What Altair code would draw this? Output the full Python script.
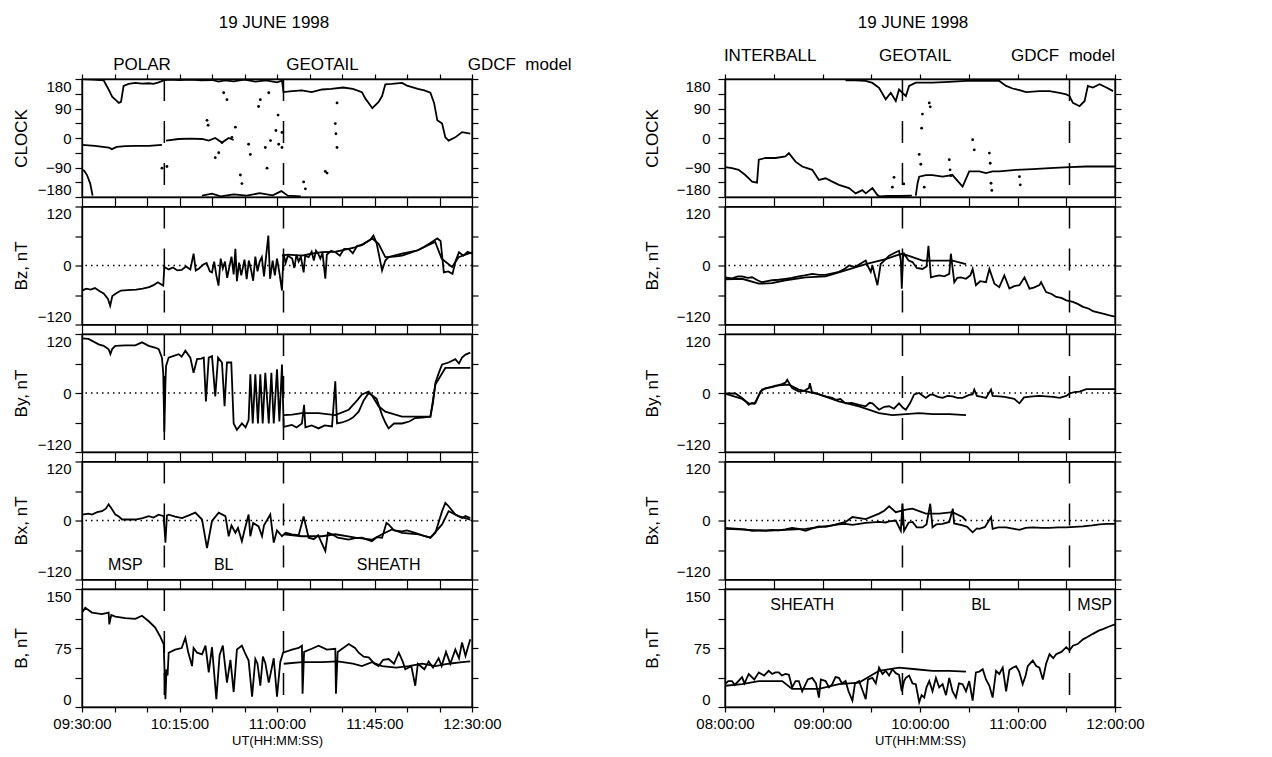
import altair as alt
import pandas as pd

# ---------------- DATA (minutes after panel start, field values) ----------------
# Left figure: 09:30 .. 12:30 UT
L_XTICKS = [0, 15, 30, 45, 60, 75, 90, 105, 120, 135, 150, 165, 180]
L_XLAB_VALS = [0, 45, 90, 135, 180]
L_XLABS = ["09:30:00", "10:15:00", "11:00:00", "11:45:00", "12:30:00"]
# Right figure: 08:00 .. 12:00 UT
R_XTICKS = [0, 30, 60, 90, 120, 150, 180, 210, 240]
R_XLAB_VALS = [0, 60, 120, 180, 240]
R_XLABS = ["08:00:00", "09:00:00", "10:00:00", "11:00:00", "12:00:00"]

CLK_TICKS = [-180, -135, -90, -45, 0, 45, 90, 135, 180]
CLK_LAB_VALS = [-180, -90, 0, 90, 180]
CLK_LABS = ["\u2212180", "\u221290", "0", "90", "180"]
BC_TICKS = [-120, -60, 0, 60, 120]
BC_LAB_VALS = [-120, 0, 120]
BC_LABS = ["\u2212120", "0", "120"]
B_TICKS = [0, 37.5, 75, 112.5, 150]
B_LAB_VALS = [0, 75, 150]
B_LABS = ["0", "75", "150"]

PANEL_TITLES = ["CLOCK", "Bz, nT", "By, nT", "Bx, nT", "B, nT"]

L_BOUNDS = [38, 93]
R_BOUNDS = [109.2, 212]

L_HEAD = ["19 JUNE 1998", "POLAR", "GEOTAIL", "GDCF\u00a0\u00a0model"]
L_HEAD_T = [88.6, 27.7, 111, 202]
L_HEAD_V = [351, 223, 223, 223]
R_HEAD = ["19 JUNE 1998", "INTERBALL", "GEOTAIL", "GDCF\u00a0\u00a0model"]
R_HEAD_T = [115.7, 27.8, 117, 208]
R_HEAD_V = [351, 250, 250, 250]

L_REGIONS = ["MSP", "BL", "SHEATH"]
L_REGIONS_T = [20, 65.4, 141.5]
L_REGIONS_V = [-90, -90, -90]
R_REGIONS = ["SHEATH", "BL", "MSP"]
R_REGIONS_T = [47.5, 157.5, 227.5]
R_REGIONS_V = [130, 130, 130]

# ---- left CLOCK ----
L_CLK_A1 = [(0, -97), (1, -100), (2.3, -113), (3.8, -139), (4.9, -176)]
L_CLK_A2 = [(0, 180), (5, 178), (10, 176), (12.3, 148), (14, 125), (15.4, 117), (17, 107), (18, 110),
            (19.2, 159), (21.5, 165), (24.6, 168), (27.7, 166), (30.8, 167), (33, 165), (35.4, 170),
            (37.7, 176), (40, 178), (45, 177), (50, 178), (55, 176), (60, 177), (63, 172), (66, 176),
            (70, 173), (75, 178), (80, 172), (85, 176), (90, 170), (92.3, 175), (93, 140), (97, 143),
            (101.5, 145), (106, 140), (110.8, 148), (115, 150), (120.5, 154), (125, 150), (129.2, 140),
            (130.8, 120), (132.3, 107), (134, 91), (135.4, 100), (136.9, 110), (138.5, 128), (140, 164),
            (143, 165), (147.7, 168), (150, 160), (155, 150), (158, 145), (160.8, 138), (162.5, 107),
            (164, 54), (166.2, 44), (167.7, 2), (169.2, -8), (172.3, 2), (175.4, 18), (179.2, 13)]
L_CLK_B1 = [(0, -21), (6, -24), (12.3, -29), (13.8, -34), (16, -27), (20, -25), (24.6, -24),
            (30.8, -24), (36.9, -21)]
L_CLK_B2 = [(38.8, -8), (44.6, -3), (50, -2), (55.4, -3), (58.5, -8), (61.5, 0), (64.6, -14),
            (67.7, 0), (70, -6)]
L_CLK_C = [(55.4, -176), (60, -170), (64, -178), (70, -172), (76, -176), (82, -168), (88, -175),
           (92, -162), (95, -176), (101, -178)]
L_CLK_DOTS = [(36.9, -92), (39.2, -87), (57.7, 54), (58.2, 39), (61.5, -60), (63.1, -45), (64.6, -14),
              (65.4, 138), (66.9, 117), (69.2, 2), (70.8, 33), (73.1, -113), (73.8, -139), (76.9, -19),
              (77.7, -50), (81.5, 96), (82.3, 117), (84.6, -29), (85.4, -92), (86.2, 138), (87, -8),
              (89.5, 23), (90.5, 70), (90.8, -19), (92.3, 17), (92.3, -29), (102.3, -134), (103.1, -155),
              (112.3, -102), (113.1, -107), (116.9, 44), (117.2, 13), (117.7, -29), (117.7, 107)]

# ---- left Bz ----
L_BZ_OBS = [(0, -51), (2, -47), (4, -49), (6, -46), (8, -52), (10, -57), (12, -68), (13, -82), (14, -62),
            (16, -56), (18, -51), (21, -50), (25, -49), (28, -47), (31, -44), (33, -40), (35, -34),
            (37.5, -41), (38, -3), (40, -8), (42, -4), (44, -10), (46, -9), (48, -2), (50, -8), (51.5, 24),
            (52.5, -10), (54, -6), (56, 2), (57.5, 5), (59, -12), (60, -14), (61, 8), (62, -20), (63, -41),
            (64, 14), (65, -6), (66, 8), (67, -25), (68, -3), (69, 18), (70, -18), (70.8, 34), (71.5, -32),
            (72.5, 6), (73.5, -20), (75, 12), (76, -28), (77, 10), (78, -8), (79, -31), (80, 18), (81, -12),
            (82, 8), (83, 17), (84, -22), (85, 20), (86, 61), (86.8, -27), (88, 10), (89, -20), (90, 14),
            (91, -12), (92.3, -51), (93, 24), (94, 5), (95, 20), (97, 14), (98, -5), (99, 22), (100, 8),
            (101, 18), (102.3, -14), (103, 20), (104.6, 17), (106, 28), (107, 10), (108, 30), (109, 24),
            (110, 14), (111, 26), (112.3, -27), (113, 22), (115, 30), (117, 27), (119, 20), (121, 34),
            (123, 34), (125, 25), (127, 40), (129, 41), (131, 47), (133, 52), (134.5, 61), (136, 45),
            (137.5, 12), (138.5, -10), (140, 10), (141.5, 17), (144, 20), (147.7, 24), (151, 27), (155, 31),
            (158, 38), (161.5, 48), (164, 55), (165.5, 50), (167, -14), (169, -12), (171, -17), (172.5, 10),
            (174, 27), (176, 20), (178, 28), (180, 24)]
L_BZ_MOD = [(92.3, 20), (95, 22), (101.5, 20), (106, 24), (110.8, 27), (117, 28), (121, 32), (126, 37),
            (130, 44), (134, 55), (136.9, 44), (140, 17), (144, 18), (147.7, 20), (155, 31), (160, 42),
            (163, 48), (166, 14), (170.8, -3), (173.8, 17), (177, 22), (180, 27)]

# ---- left By ----
L_BY_OBS = [(0, 111), (3, 110), (7.7, 99), (10, 96), (12.3, 89), (13.1, 79), (14, 90), (15.4, 96), (20, 97),
            (24.6, 97), (27.7, 103), (30.8, 96), (34, 92), (35.4, 89), (36.9, 72), (37.5, 40), (38, -79),
            (38.5, 20), (38.8, 55), (40, 72), (42, 75), (44.6, 79), (46, 74), (47.7, 86), (50, 72), (51.5, 41),
            (53.1, 69), (55, 70), (56.2, 72), (57.2, -17), (58.5, 72), (60, 75), (61.5, -7), (62.8, 72),
            (64.6, 62), (65.8, -27), (66.9, 62), (68.9, 62), (70, -62), (71.5, -75), (73.8, -62), (75.5, -70),
            (76.9, -55), (77.7, 38), (78.8, -62), (80, 38), (81.2, -62), (82.3, 38), (83.4, -62), (84.6, 41),
            (86.2, -62), (87.4, 41), (88.5, -62), (90, 48), (91.1, -58), (92.3, 58), (93.1, -69), (96.9, -65),
            (99, -70), (101.5, -62), (102.5, -24), (103.1, -70), (106, -66), (109.2, -72), (112, -66),
            (115.4, -68), (116.9, 24), (117.7, -62), (120, -60), (123.1, -55), (125, -50), (127.7, -38),
            (130, -15), (132.3, 0), (134, -5), (136, -12), (138.5, -45), (140, -60), (141.5, -72), (144, -62),
            (147.7, -62), (151, -58), (153.8, -51), (157, -50), (160.8, -48), (162, -20), (163.1, 21),
            (164.6, 40), (166.2, 58), (169.2, 62), (172.3, 69), (174, 60), (175.4, 72), (177, 78), (179.2, 82)]
L_BY_MOD = [(93.1, -45), (97, -44), (101.5, -41), (109.2, -41), (116.9, -45), (123.1, -34), (127, -15),
            (129.2, -3), (132.3, 3), (134, -6), (136.9, -27), (140, -38), (147.7, -48), (153.8, -48),
            (160.8, -48), (163.1, 17), (167.7, 51), (172.3, 51), (179.2, 51)]

# ---- left Bx ----
L_BX_OBS = [(0, 12), (3, 14), (4.6, 12), (7, 17), (9.2, 19), (11, 24), (12.3, 33), (14, 22), (15.4, 12),
            (17, 8), (18.5, 2), (22, 2), (24.6, 2), (28, 5), (30.8, 9), (33, 6), (35.4, 12), (37.7, 9),
            (38.5, -45), (39.2, 10), (40, 12), (43, 8), (46.2, 5), (49, 10), (52.3, 16), (55.4, 2),
            (57.7, -56), (60, -1), (63.1, 16), (66.2, 9), (67.7, -32), (69, -10), (70.8, -25), (72, -15),
            (73.8, -42), (75, -20), (76.9, 12), (77.7, -32), (79, -5), (81.5, -12), (83.1, -32), (84, -10),
            (86.9, 12), (88.5, -45), (90, -20), (92.3, -32), (94, -25), (96.9, -28), (100, -30), (102.3, 8),
            (104.6, -35), (107, -38), (109, -30), (112.3, -62), (113.5, -25), (115.4, -28), (118, -35),
            (123.1, -39), (126, -36), (129.2, -35), (131, -38), (133.8, -42), (136, -34), (138.5, -35),
            (140.5, -5), (141.5, -8), (144, -20), (147.7, -22), (150, -20), (153.8, -25), (157, -30),
            (160.8, -35), (163.1, -25), (166.2, 19), (167.7, 36), (169.2, 29), (172.3, 12), (175.4, 5),
            (177, 9), (179.2, 5)]
L_BX_MOD = [(93.1, -28), (101.5, -32), (110.8, -32), (116.9, -28), (126.2, -35), (133.8, -39), (138.5, -28),
            (143.1, -18), (147.7, -25), (155.4, -28), (160.8, -35), (166.2, -8), (169.2, 19), (173.8, 9),
            (179.2, 2)]

# ---- left B ----
L_B_OBS = [(0, 120), (1.5, 126), (4.6, 120), (9.2, 118), (12.3, 120), (12.6, 105), (13.5, 117), (15.4, 115),
           (20, 113), (24.6, 112), (27.7, 116), (30.8, 109), (33.8, 101), (36, 90), (37.7, 80), (38.5, 10),
           (39, 48), (39.5, 40), (40, 69), (43, 73), (46, 75), (47.7, 88), (49, 70), (50.8, 52), (51.5, 75),
           (53.1, 69), (55.4, 67), (57, 78), (58.5, 44), (60, 76), (62, 10), (63.5, 66), (65, 78), (66.9, 31),
           (68.5, 60), (70, 19), (71.5, 73), (73.8, 78), (75, 70), (76.9, 59), (78.5, 13), (80, 61), (81, 55),
           (82.3, 27), (83.5, 64), (84.6, 56), (86.2, 31), (88.5, 62), (90, 13), (91.5, 57), (92.8, 69),
           (96.9, 73), (100, 75), (101.5, 78), (101.8, 17), (102.5, 70), (106, 74), (109.2, 78), (113, 73),
           (116.9, 74), (117.2, 17), (118, 70), (123.1, 80), (126, 75), (127.7, 69), (130, 64), (132.3, 63),
           (135, 55), (136.9, 52), (139, 60), (141.5, 61), (144, 55), (146.2, 69), (148, 58), (149.2, 48),
           (152, 52), (153.8, 27), (155, 55), (158, 48), (160, 58), (162, 50), (164.6, 62), (166, 52),
           (168, 70), (170, 55), (172.3, 73), (174, 62), (175.4, 82), (177, 65), (179.2, 86)]
L_B_MOD = [(93.1, 55), (101.5, 57), (110.8, 57), (118, 58), (125, 55), (129.2, 52), (133.8, 57), (138.5, 52),
           (145, 50), (150.8, 52), (157, 55), (163.1, 52), (169.2, 55), (175.4, 57), (179.2, 58)]

# ---- right CLOCK ----
R_CLK_1 = [(0, -89), (4.3, -92), (8.4, -97), (12.5, -113), (16.7, -133), (19.7, -136), (20.8, -66),
           (24.9, -61), (31.1, -61), (37.2, -56), (39.3, -46), (43.4, -72), (47.5, -87), (53.7, -97),
           (57.8, -128), (61.9, -123), (66, -133), (70.1, -143), (76.3, -153), (80.4, -169), (84.5, -159),
           (86.6, -169), (90.7, -153), (93.8, -174), (95, -178), (100, -177), (107.1, -177), (115, -176)]
R_CLK_2 = [(117.4, -176), (118.5, -138), (119.5, -118), (123.6, -113), (127.7, -113), (133.9, -118),
           (140, -113), (146.2, -148), (150.3, -102), (156.5, -102), (160.6, -107), (164.7, -102),
           (168.8, -102), (179.1, -97), (189.4, -95), (199.7, -92), (212, -89), (222.3, -87), (240, -87)]
R_CLK_3 = [(74.2, 176), (80, 176), (86.6, 174), (90.7, 168), (94.8, 153), (98.9, 118), (102, 138),
           (105.1, 113), (107.1, 148), (111.3, 128), (113.3, 159), (117.4, 169), (127.7, 169), (138, 171),
           (148.3, 174), (158.6, 174), (168.8, 174), (173, 159), (177, 151), (181.2, 146), (185.3, 140),
           (193.5, 143), (199.7, 143), (205.9, 138), (210, 133), (212, 128), (214.1, 107), (218.2, 97),
           (221.3, 113), (223.3, 159), (226.4, 154), (230.5, 164), (234.7, 154), (238.8, 143)]
R_CLK_DOTS = [(119.5, -50), (120.5, -80), (121.5, 73), (121, 30), (122.6, -150), (125.7, 107), (126.3, 95),
              (138, -66), (138.5, -97), (139, -115), (152.4, -5), (153.4, -36), (162.7, -46), (163.2, -77),
              (163.7, -138), (164.2, -160), (181.2, -118), (181.7, -143), (104, -120), (103, -150), (110, -140)]

# ---- right Bz ----
R_BZ_OBS = [(0, -24), (4.3, -26), (8, -22), (10.5, -22), (14, -25), (16.7, -24), (20, -30), (22.8, -34),
            (26, -32), (29, -30), (33, -29), (37.2, -27), (41, -25), (45.4, -22), (49, -20), (53.7, -17),
            (58, -19), (61.9, -19), (66, -16), (70.1, -13), (74, -6), (76.3, 0), (80, -3), (82.5, 2),
            (86.6, 10), (88, -2), (89.7, -13), (90.7, 0), (93.8, -40), (95.8, 3), (98, 10), (101, 20),
            (105.1, 27), (107.1, 30), (108.2, 10), (108.8, -47), (109.5, 15), (110.2, 24), (113, 10),
            (115.4, 7), (118, -5), (121.5, -7), (124, -2), (125.2, 40), (126.7, -24), (129, -22), (131.8, -20),
            (135, -22), (138, -17), (139, 24), (141.1, -34), (143, -25), (145.2, -24), (148.3, -27), (151, -20),
            (152.4, -7), (154.4, -40), (157, -32), (160.6, -34), (162.7, -7), (165.8, -37), (168.8, -44),
            (171.9, -20), (175, -47), (178, -42), (181.2, -40), (184.3, -24), (187.4, -47), (190, -45),
            (193.5, -40), (194.5, -34), (197.6, -54), (201, -58), (203.8, -64), (207, -66), (210, -71),
            (214.1, -74), (217, -78), (220.3, -84), (224, -88), (226.4, -93), (230, -96), (232.6, -98),
            (236, -101), (240, -104)]
R_BZ_MOD = [(0, -28), (10.5, -27), (20.8, -37), (29, -36), (37.2, -30), (49.6, -24), (61.9, -22),
            (74.2, -10), (86.6, 3), (98.9, 13), (105.1, 20), (109.2, 24), (115.4, 17), (121.5, 10),
            (131.8, 10), (140, 10), (148.3, 3)]

# ---- right By ----
R_BY_OBS = [(0, -1), (4, -1), (6.4, -1), (10.5, -10), (12.5, -16), (14.6, -24), (16.7, -20), (18.7, -21),
            (21.8, 3), (24.9, 10), (29, 12), (31.1, 14), (35, 18), (37.2, 21), (38.3, 27), (41.3, 10),
            (45.4, 3), (49, 5), (51.6, 10), (52.2, 20), (53.5, 2), (55.7, 0), (59, -4), (61.9, -7), (66, -10),
            (68.1, -14), (71, -12), (74.2, -21), (78, -20), (82.5, -24), (86.6, -27), (89, -20), (90.7, -21),
            (94.8, -34), (98, -28), (101, -27), (104, -32), (107.1, -21), (109.5, -30), (111.3, -34),
            (114, -20), (116.4, -3), (119.5, 0), (121.5, -5), (123.6, -10), (126, -4), (127.7, -3),
            (131, -8), (133.9, -10), (137, -6), (140, -7), (143, -10), (146.2, -10), (150.3, -4),
            (152.4, -3), (153.4, 7), (155, -6), (158, -8), (160.6, -10), (163.7, 7), (164.7, -6),
            (168.8, -7), (172, -8), (175, -10), (178, -12), (181.2, -21), (184, -9), (189.4, -7),
            (193.5, -6), (197.6, -7), (202, -8), (205.9, -10), (210, -6), (212, -1), (215, 2), (218.2, 3),
            (222.3, 8), (230.5, 8), (238.8, 8), (240, 8)]
R_BY_MOD = [(0, -1), (10.5, -12), (14.6, -21), (18, -22), (22.8, 7), (31.1, 15), (39.3, 17), (45.4, 7),
            (57.8, -3), (70.1, -17), (82.5, -27), (94.8, -41), (103, -45), (111.3, -43), (119.5, -41),
            (127.7, -43), (138, -43), (148.3, -45)]

# ---- right Bx ----
R_BX_OBS = [(0, -15), (4, -16), (8.4, -17), (12.5, -18), (16.7, -21), (21, -20), (24.9, -20), (29, -19),
            (33.1, -20), (37, -18), (41.3, -15), (45.4, -17), (49.6, -21), (53.7, -16), (57.8, -12), (62, -13),
            (66, -10), (70.1, -8), (74.2, -7), (78.4, -9), (82.5, -7), (86.6, -5), (90.7, -4), (94.8, -3),
            (98.9, -4), (101, -2), (105.1, 0), (108.2, -21), (109.2, 34), (110.2, -21), (113, -4), (115.4, -3),
            (118, -14), (121.5, -14), (124, -8), (126.3, 34), (127.7, -14), (130, -8), (133.9, -7), (138, -3),
            (140.2, 24), (141, -6), (146.2, -10), (149, -13), (152.4, -24), (155, -16), (156.5, -17),
            (160, -13), (163.7, 7), (164.7, -17), (168, -14), (173, -14), (178, -17), (181.2, -19),
            (185, -15), (189.4, -14), (195, -15), (199.7, -15), (205, -14), (210, -14), (215, -13),
            (220.3, -12), (226, -10), (230.5, -8), (235, -7), (240, -7)]
R_BX_MOD = [(0, -17), (8.4, -18), (24.9, -21), (37.2, -19), (49.6, -17), (66, -10), (74.2, -3), (78.4, 7),
            (86.6, 3), (94.8, 14), (98, 20), (101, 29), (105.1, 17), (111.3, 22), (115.4, 24), (123.6, 14),
            (131.8, 14), (140, 17), (146.2, 7), (148.3, 0)]

# ---- right B ----
R_B_OBS = [(0, 29), (2, 33), (4.3, 33), (6, 28), (10.5, 38), (12, 30), (14.6, 42), (18, 35), (20.8, 44),
           (24, 40), (26.9, 46), (29, 42), (31, 44), (33.1, 44), (35, 40), (37.2, 42), (39.3, 41), (41.3, 25),
           (43.4, 33), (45.4, 33), (47.5, 20), (49.6, 29), (51, 35), (53.7, 37), (56, 30), (57.8, 12),
           (59, 35), (61.9, 33), (64, 25), (66, 29), (68, 38), (70.1, 37), (72, 30), (74.2, 33), (76, 20),
           (78.4, 8), (80, 30), (82.5, 33), (84.5, 22), (86.6, 10), (88, 35), (90.7, 37), (92.8, 30),
           (94.8, 50), (96.9, 42), (98.9, 46), (101, 40), (103, 48), (105.1, 43), (107.1, 41), (108.8, 20),
           (110.2, 33), (111.3, 37), (113.3, 40), (115.4, 30), (117.4, 29), (119.5, 6), (121, 15),
           (122.6, 12), (124, 25), (125.7, 33), (127.7, 20), (129.8, 37), (131.8, 25), (133.9, 29), (136, 15),
           (138, 37), (140, 20), (142.1, 12), (144, 30), (146.2, 29), (148.3, 20), (150.3, 33), (152.4, 8),
           (154.4, 44), (156.5, 45), (158.6, 48), (160.6, 35), (162.7, 27), (164.7, 12), (166.8, 46),
           (168.8, 42), (170.9, 50), (173, 20), (175, 47), (177, 50), (179.1, 52), (181, 45), (183.2, 29),
           (185, 40), (186.3, 52), (189.4, 59), (191.5, 52), (193.5, 50), (195.6, 35), (197.6, 55),
           (199.7, 67), (202, 62), (203.8, 67), (207, 70), (210, 76), (212, 72), (214.1, 78), (217, 80),
           (220.3, 86), (223, 89), (226.4, 93), (230, 97), (232.6, 99), (236, 102), (240, 105)]
R_B_MOD = [(0, 27), (10.5, 29), (20.8, 33), (35.2, 33), (41.3, 23), (57.8, 23), (70.1, 29), (82.5, 31),
           (94.8, 46), (107.1, 50), (117.4, 48), (127.7, 46), (138, 46), (148.3, 45)]

# ---------------- helpers ----------------
FONT = "Liberation Sans"
PLOT_W = 390
PLOT_H = 118


def lab_expr(vals, labs):
    e = "''"
    for v, s in zip(vals, labs):
        e = f"(abs(datum.value - ({v})) < 0.01) ? '{s}' : ({e})"
    return e


def series_df(series):
    rows = []
    for name, pts in series:
        for i, (t, v) in enumerate(pts):
            rows.append({"t": t, "v": v, "seg": name, "i": i})
    return pd.DataFrame(rows)


def panel(series, ydom, yticks, ylv, yl, ytitle, xdom, xticks, xlv, xl, bottom, bounds,
          zero, side, dots=None, texts=None):
    xs = alt.Scale(domain=xdom, nice=False, zero=False)
    ys = alt.Scale(domain=ydom, nice=False, zero=False)
    if side == "left":
        ext, tpad, lpad = 44, 8, 4
    else:
        ext, tpad, lpad = 48, 16, 8
    yaxis = alt.Axis(orient="left", values=yticks, labelExpr=lab_expr(ylv, yl), title=ytitle,
                     tickSize=7, labelPadding=lpad, minExtent=ext, maxExtent=ext, titlePadding=tpad,
                     titleFontSize=17, titleFontWeight="normal", labelFontSize=15, grid=False,
                     labelFlush=True, labelFlushOffset=0, labelFont=FONT, titleFont=FONT)
    yaxis_r = alt.Axis(orient="right", values=yticks, labels=False, title=None, tickSize=6, grid=False)
    if bottom:
        xaxis = alt.Axis(orient="bottom", values=xticks, labelExpr=lab_expr(xlv, xl), title="UT(HH:MM:SS)",
                         titleFontSize=13, titleFontWeight="normal", labelFontSize=15, tickSize=5,
                         labelPadding=4, titlePadding=3, grid=False, labelFlush=False,
                         labelFont=FONT, titleFont=FONT)
    else:
        xaxis = alt.Axis(orient="bottom", values=xticks, labels=False, title=None, tickSize=5, grid=False)
    xaxis_t = alt.Axis(orient="top", values=xticks, labels=False, title=None, tickSize=5, grid=False)

    df = series_df(series)
    lines = alt.Chart(df).mark_line(color="black", strokeWidth=1.8, clip=True).encode(
        x=alt.X("t:Q", scale=xs, axis=xaxis),
        y=alt.Y("v:Q", scale=ys, axis=yaxis),
        detail="seg:N",
        order=alt.Order("i:Q"),
    )
    mirror = alt.Chart(df).mark_line(strokeOpacity=0).encode(
        x=alt.X("t:Q", scale=xs, axis=xaxis_t),
        y=alt.Y("v:Q", scale=ys, axis=yaxis_r),
        detail="seg:N",
    )
    layers = [lines, mirror]
    if zero:
        layers.append(alt.Chart(pd.DataFrame({"v": [0]})).mark_rule(
            color="black", strokeDash=[1.5, 4], strokeWidth=1.4).encode(
            y=alt.Y("v:Q", scale=ys, axis=None)))
    layers.append(alt.Chart(pd.DataFrame({"t": bounds})).mark_rule(
        color="black", strokeDash=[22, 20], strokeWidth=1.5).encode(
        x=alt.X("t:Q", scale=xs, axis=None)))
    if dots is not None:
        ddf = pd.DataFrame(dots, columns=["t", "v"])
        layers.append(alt.Chart(ddf).mark_circle(color="black", size=8, opacity=1).encode(
            x=alt.X("t:Q", scale=xs, axis=None), y=alt.Y("v:Q", scale=ys, axis=None)))
    if texts is not None:
        for labs, ts, vs, fs in texts:
            tdf = pd.DataFrame({"t": ts, "v": vs, "label": labs})
            layers.append(alt.Chart(tdf).mark_text(font=FONT, fontSize=fs, color="black",
                                                    baseline="middle", align="center").encode(
                x=alt.X("t:Q", scale=xs, axis=None), y=alt.Y("v:Q", scale=ys, axis=None),
                text="label:N"))
    return alt.layer(*layers).resolve_axis(x="independent", y="independent").properties(
        width=PLOT_W, height=PLOT_H)


L_DOM = [0, 180]
R_DOM = [0, 240]
left = dict(xdom=L_DOM, xticks=L_XTICKS, xlv=L_XLAB_VALS, xl=L_XLABS, bounds=L_BOUNDS, side="left")
right = dict(xdom=R_DOM, xticks=R_XTICKS, xlv=R_XLAB_VALS, xl=R_XLABS, bounds=R_BOUNDS, side="right")

clk = dict(ydom=[-180, 180], yticks=CLK_TICKS, ylv=CLK_LAB_VALS, yl=CLK_LABS, ytitle=PANEL_TITLES[0], zero=False)
bz = dict(ydom=[-120, 120], yticks=BC_TICKS, ylv=BC_LAB_VALS, yl=BC_LABS, ytitle=PANEL_TITLES[1], zero=True)
by = dict(ydom=[-120, 120], yticks=BC_TICKS, ylv=BC_LAB_VALS, yl=BC_LABS, ytitle=PANEL_TITLES[2], zero=True)
bx = dict(ydom=[-120, 120], yticks=BC_TICKS, ylv=BC_LAB_VALS, yl=BC_LABS, ytitle=PANEL_TITLES[3], zero=True)
bt = dict(ydom=[0, 150], yticks=B_TICKS, ylv=B_LAB_VALS, yl=B_LABS, ytitle=PANEL_TITLES[4], zero=False)

cells = [
    panel([("a1", L_CLK_A1), ("a2", L_CLK_A2), ("b1", L_CLK_B1), ("b2", L_CLK_B2), ("c", L_CLK_C)],
          bottom=False, dots=L_CLK_DOTS,
          texts=[([L_HEAD[0]], [L_HEAD_T[0]], [L_HEAD_V[0]], 17),
                 (L_HEAD[1:], L_HEAD_T[1:], L_HEAD_V[1:], 17)], **clk, **left),
    panel([("r1", R_CLK_1), ("r2", R_CLK_2), ("r3", R_CLK_3)], bottom=False, dots=R_CLK_DOTS,
          texts=[([R_HEAD[0]], [R_HEAD_T[0]], [R_HEAD_V[0]], 17),
                 (R_HEAD[1:], R_HEAD_T[1:], R_HEAD_V[1:], 17)], **clk, **right),
    panel([("obs", L_BZ_OBS), ("mod", L_BZ_MOD)], bottom=False, **bz, **left),
    panel([("obs", R_BZ_OBS), ("mod", R_BZ_MOD)], bottom=False, **bz, **right),
    panel([("obs", L_BY_OBS), ("mod", L_BY_MOD)], bottom=False, **by, **left),
    panel([("obs", R_BY_OBS), ("mod", R_BY_MOD)], bottom=False, **by, **right),
    panel([("obs", L_BX_OBS), ("mod", L_BX_MOD)], bottom=False,
          texts=[(L_REGIONS, L_REGIONS_T, L_REGIONS_V, 16)], **bx, **left),
    panel([("obs", R_BX_OBS), ("mod", R_BX_MOD)], bottom=False, **bx, **right),
    panel([("obs", L_B_OBS), ("mod", L_B_MOD)], bottom=True, **bt, **left),
    panel([("obs", R_B_OBS), ("mod", R_B_MOD)], bottom=True,
          texts=[(R_REGIONS, R_REGIONS_T, R_REGIONS_V, 16)], **bt, **right),
]

chart = alt.concat(*cells, columns=2, spacing={"row": 9.5, "column": 253}, bounds="flush").properties(
    padding={"left": 11, "top": 13, "right": 5, "bottom": 5}
).configure(font=FONT, background="white").configure_view(
    stroke="black", strokeWidth=1.4
).configure_axis(
    domainColor="black", tickColor="black", labelColor="black", titleColor="black",
    domainWidth=1.4, tickWidth=1.2
)

chart.save("out.html", embed_options={"renderer": "svg", "actions": False})
